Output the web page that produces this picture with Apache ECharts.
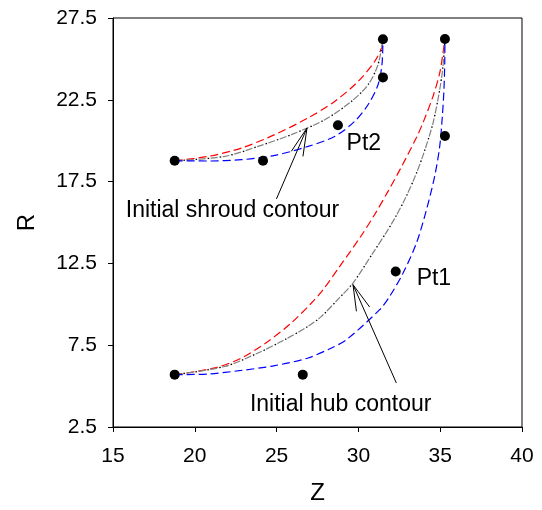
<!DOCTYPE html>
<html>
<head>
<meta charset="utf-8">
<script src="https://cdn.jsdelivr.net/npm/echarts@6/dist/echarts.min.js"></script>
<style>
html,body{margin:0;padding:0;background:#fff;}
#c{width:542px;height:510px;}
</style>
</head>
<body>
<div id="c"></div>
<script>
// Axis ticks
const xTicks = [15, 20, 25, 30, 35, 40];
const yTicks = [2.5, 7.5, 12.5, 17.5, 22.5, 27.5];

// Hub contours [Z, R]
const hubRed = [[18.77,5.70],[21.22,6.11],[22.85,6.72],[24.47,7.73],[25.90,8.86],[27.13,10.08],[27.84,10.89],[28.86,12.32],[30.18,14.20],[31.00,15.50],[31.81,16.90],[32.63,18.40],[33.55,20.20],[33.95,21.10],[34.56,22.71],[34.97,24.14],[35.17,25.36],[35.29,26.22]];
const hubGray = [[18.77,5.70],[21.83,6.20],[23.86,7.02],[25.50,7.84],[26.92,8.65],[27.74,9.26],[28.86,10.42],[29.67,11.30],[30.89,13.14],[31.71,14.40],[32.22,15.25],[32.83,16.40],[33.44,17.75],[33.95,19.10],[34.56,21.08],[34.97,23.12],[35.17,24.54],[35.29,26.22]];
const hubBlue = [[18.77,5.70],[20.81,5.74],[22.85,5.96],[24.88,6.25],[26.92,6.72],[28.35,7.33],[29.27,7.84],[31.30,9.67],[31.91,10.48],[32.73,11.91],[33.55,13.75],[34.16,15.78],[34.66,17.82],[34.97,19.65],[35.13,21.49],[35.23,23.12],[35.28,24.95],[35.29,26.22]];

// Shroud contours [Z, R]
const shroudRed = [[18.77,18.77],[20.81,19.04],[22.85,19.55],[24.88,20.37],[26.92,21.39],[28.55,22.40],[29.98,23.62],[31.00,24.85],[31.41,25.67],[31.50,26.20]];
const shroudGray = [[18.77,18.77],[21.83,19.04],[23.86,19.65],[25.90,20.37],[27.94,21.28],[29.57,22.40],[30.59,23.42],[31.20,24.65],[31.50,26.20]];
const shroudBlue = [[18.77,18.77],[20.81,18.76],[22.85,18.84],[24.88,19.10],[26.92,19.65],[28.55,20.26],[29.77,21.18],[30.59,22.20],[31.20,23.42],[31.44,24.65],[31.50,26.20]];

// Control points
const hubPoints = [[18.77,5.70],[26.60,5.70],[32.28,12.01],[35.29,20.29],[35.29,26.22]];
const shroudPoints = [[18.77,18.77],[24.17,18.77],[28.75,20.94],[31.50,23.87],[31.50,26.20]];

// Annotations
const labelTexts = ['Pt2', 'Pt1', 'Initial shroud contour', 'Initial hub contour'];
const labelAnchors = [[29.28,19.82],[33.56,11.56],[15.78,15.72],[23.37,3.86]];
const shroudArrowShaft = [[24.99,16.44],[26.86,20.78]];
const shroudArrowHead = [[25.90,19.35],[26.86,20.78],[26.61,19.04]];
const hubArrowShaft = [[32.32,5.19],[29.67,11.20]];
const hubArrowHead = [[29.88,9.57],[29.67,11.20],[30.69,9.83]];

const FONT = 'Liberation Sans, Arial, sans-serif';

function curve(data, color, dash, offset, w) {
  return {
    type: 'line', data: data, smooth: 0.3, showSymbol: false, symbol: 'none',
    lineStyle: { color: color, width: w || 1.2, type: dash, dashOffset: offset || 0, opacity: 1 },
    silent: true, z: 3
  };
}
function seg(data) {
  return {
    type: 'line', data: data, showSymbol: false, symbol: 'none',
    lineStyle: { color: '#000', width: 1, opacity: 1 }, silent: true, z: 4
  };
}

const series = [
  curve(hubRed, '#ff0000', [8, 4]),
  curve(hubGray, '#808080', [7, 5]),
  curve(hubGray, '#000000', [1.5, 10.5], 3, 1.3),
  curve(hubBlue, '#0000ff', [8, 4]),
  curve(shroudRed, '#ff0000', [8, 4]),
  curve(shroudGray, '#808080', [7, 5]),
  curve(shroudGray, '#000000', [1.5, 10.5], 3, 1.3),
  curve(shroudBlue, '#0000ff', [8, 4]),
  seg(shroudArrowShaft), seg(shroudArrowHead),
  seg(hubArrowShaft), seg(hubArrowHead),
  { type: 'scatter', data: hubPoints, symbol: 'circle', symbolSize: 10,
    itemStyle: { color: '#000', opacity: 1 }, z: 5, silent: true },
  { type: 'scatter', data: shroudPoints, symbol: 'circle', symbolSize: 10,
    itemStyle: { color: '#000', opacity: 1 }, z: 5, silent: true },
  { type: 'scatter', symbolSize: 0, silent: true, z: 6,
    itemStyle: { opacity: 1 },
    data: labelAnchors.map((p, i) => ({ value: p, name: labelTexts[i] })),
    label: { show: true, position: 'right', distance: 0, formatter: '{b}',
      color: '#000', opacity: 1, fontSize: 23, fontFamily: FONT } }
];

const chart = echarts.init(document.getElementById('c'), null, { renderer: 'canvas' });
chart.setOption({
  animation: false,
  backgroundColor: '#fff',
  grid: { left: 113, right: 20, top: 18, bottom: 83, show: true, borderColor: '#000', borderWidth: 1, backgroundColor: 'transparent' },
  xAxis: {
    type: 'value', min: 15, max: 40, interval: 5,
    name: 'Z', nameLocation: 'middle', nameGap: 54,
    nameTextStyle: { color: '#000', fontSize: 24, fontFamily: FONT },
    axisLine: { show: true, lineStyle: { color: '#000', width: 1 } },
    axisTick: { show: true, inside: false, length: 5, lineStyle: { color: '#000' }, customValues: xTicks },
    axisLabel: { color: '#000', fontSize: 21, fontFamily: FONT, margin: 19, customValues: xTicks },
    splitLine: { show: false }
  },
  yAxis: {
    type: 'value', min: 2.5, max: 27.5,
    name: 'R', nameLocation: 'middle', nameGap: 74, nameRotate: 90,
    nameTextStyle: { color: '#000', fontSize: 24, fontFamily: FONT },
    axisLine: { show: true, lineStyle: { color: '#000', width: 1 } },
    axisTick: { show: true, inside: false, length: 5, lineStyle: { color: '#000' }, customValues: yTicks },
    axisLabel: { color: '#000', fontSize: 21, fontFamily: FONT, margin: 16, customValues: yTicks,
      formatter: v => v.toFixed(1) },
    splitLine: { show: false }
  },
  series: series
});
</script>
</body>
</html>
